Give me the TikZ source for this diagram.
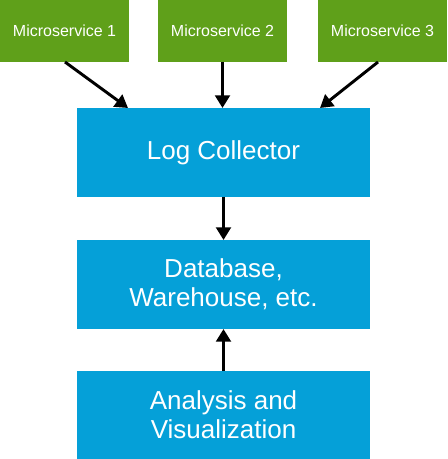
\documentclass[tikz,border=0pt]{standalone}
\usepackage{fontspec}
\setmainfont{Liberation Sans}
\usetikzlibrary{arrows.meta}
\definecolor{msgreen}{HTML}{5FA01A}
\definecolor{boxblue}{HTML}{05A0D8}
\begin{document}
\begin{tikzpicture}[x=0.75pt,y=-0.75pt,
  msbox/.style={rectangle,fill=msgreen,text=white,inner sep=0pt,outer sep=0pt,
    minimum width=96.75pt,minimum height=46.5pt,font=\fontsize{12}{14}\selectfont},
  bigbox/.style={rectangle,fill=boxblue,text=white,inner sep=0pt,outer sep=0pt,
    minimum width=219.75pt,minimum height=66.75pt,align=center,
    font=\fontsize{19.5}{21.75}\selectfont},
  flow/.style={line width=2.2pt,-{Triangle[length=9.5pt,width=11pt]}}]
\useasboundingbox (0,0) rectangle (447,459);
\node[msbox] (ms1) at (64.5,31) {Microservice 1};
\node[msbox] (ms2) at (222.5,31) {Microservice 2};
\node[msbox] (ms3) at (382.5,31) {Microservice 3};
\node[bigbox] (lc) at (223.5,152.5) {Log Collector};
\node[bigbox] (db) at (223.5,284.5) {Database,\\Warehouse, etc.};
\node[bigbox,minimum height=66pt] (av) at (223.5,415) {Analysis and\\Visualization};
\coordinate (t1) at (128,108);
\coordinate (t3) at (320,108);
\coordinate (s1) at (65,62);
\coordinate (s3) at (378,62);
\draw[flow] (s1) -- (t1);
\draw[flow] (ms2.south) -- (lc.north -| ms2.south);
\draw[flow] (s3) -- (t3);
\draw[flow] (lc.south) -- (db.north);
\draw[flow] (av.north) -- (db.south);
\end{tikzpicture}
\end{document}
